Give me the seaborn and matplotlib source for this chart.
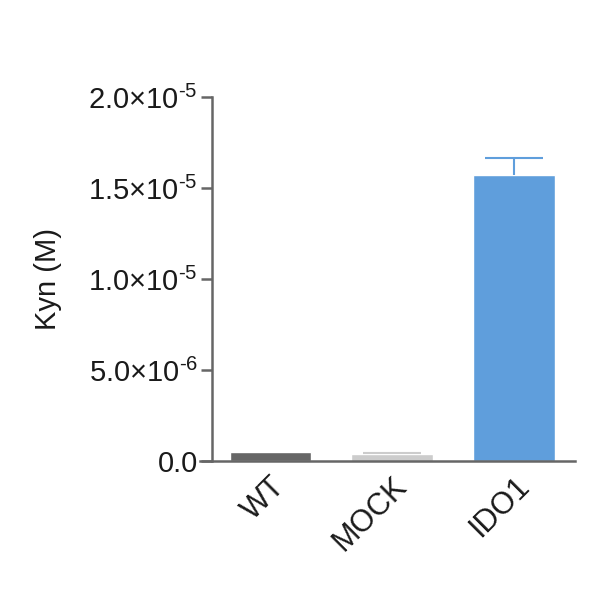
import matplotlib
matplotlib.use("Agg")
import matplotlib.pyplot as plt
import seaborn as sns
import pandas as pd
import numpy as np
from matplotlib.ticker import FixedLocator

categories = ["WT", "MOCK", "IDO1"]
kyn_mean = [5.0e-7, 3.8e-7, 1.57e-5]
kyn_err = [0.0, 0.7e-7, 0.95e-6]
bar_colors = ["#666666", "#cccccc", "#5f9edc"]
y_ticks = [0.0, 5.0e-6, 1.0e-5, 1.5e-5, 2.0e-5]
y_tick_labels = ["0.0", r"5.0×10$^{\text{-}6}$", r"1.0×10$^{\text{-}5}$",
                 r"1.5×10$^{\text{-}5}$", r"2.0×10$^{\text{-}5}$"]

sns.set_style("white")
plt.rcParams["font.family"] = ["Liberation Sans", "DejaVu Sans"]
plt.rcParams["mathtext.fontset"] = "custom"
plt.rcParams["mathtext.rm"] = "Liberation Sans"
plt.rcParams["mathtext.it"] = "Liberation Sans"
plt.rcParams["mathtext.default"] = "rm"

df = pd.DataFrame({"group": categories, "kyn": kyn_mean})

fig = plt.figure(figsize=(6, 6), dpi=100)
ax = fig.add_axes([0.333, 0.232, 0.625, 0.606])

sns.barplot(data=df, x="group", y="kyn", hue="group", palette=bar_colors,
            order=categories, hue_order=categories, legend=False, width=0.67,
            ax=ax, saturation=1, errorbar=None)

for i, (m, e, c) in enumerate(zip(kyn_mean, kyn_err, bar_colors)):
    if e <= 0:
        continue
    _, caps, _ = ax.errorbar(i, m, yerr=[[0], [e]], fmt="none", ecolor=c,
                             elinewidth=1.5, capsize=21, capthick=1.5)
    caps[0].set_visible(False)

ax.set_xlim(-0.58, 2.5)
ax.set_ylim(0, 2.0e-5)
ax.yaxis.set_major_locator(FixedLocator(y_ticks))
ax.set_yticklabels(y_tick_labels)

for s in ["top", "right"]:
    ax.spines[s].set_visible(False)
ax.spines["left"].set_position(("axes", 0.032))
for s in ["left", "bottom"]:
    ax.spines[s].set_color("#666666")
    ax.spines[s].set_linewidth(1.8)

ax.tick_params(axis="y", which="major", left=True, length=8, width=1.8,
               color="#666666", labelsize=21, pad=2, labelcolor="#1a1a1a")
ax.tick_params(axis="x", bottom=False, labelsize=22, pad=4, labelcolor="#1a1a1a")
for lbl in ax.get_xticklabels():
    lbl.set_rotation(45)
    lbl.set_ha("right")
    lbl.set_rotation_mode("anchor")

ax.set_xlabel("")
ax.set_ylabel("Kyn (M)", fontsize=21, labelpad=19, color="#1a1a1a")

fig.savefig("out.png", dpi=100)
